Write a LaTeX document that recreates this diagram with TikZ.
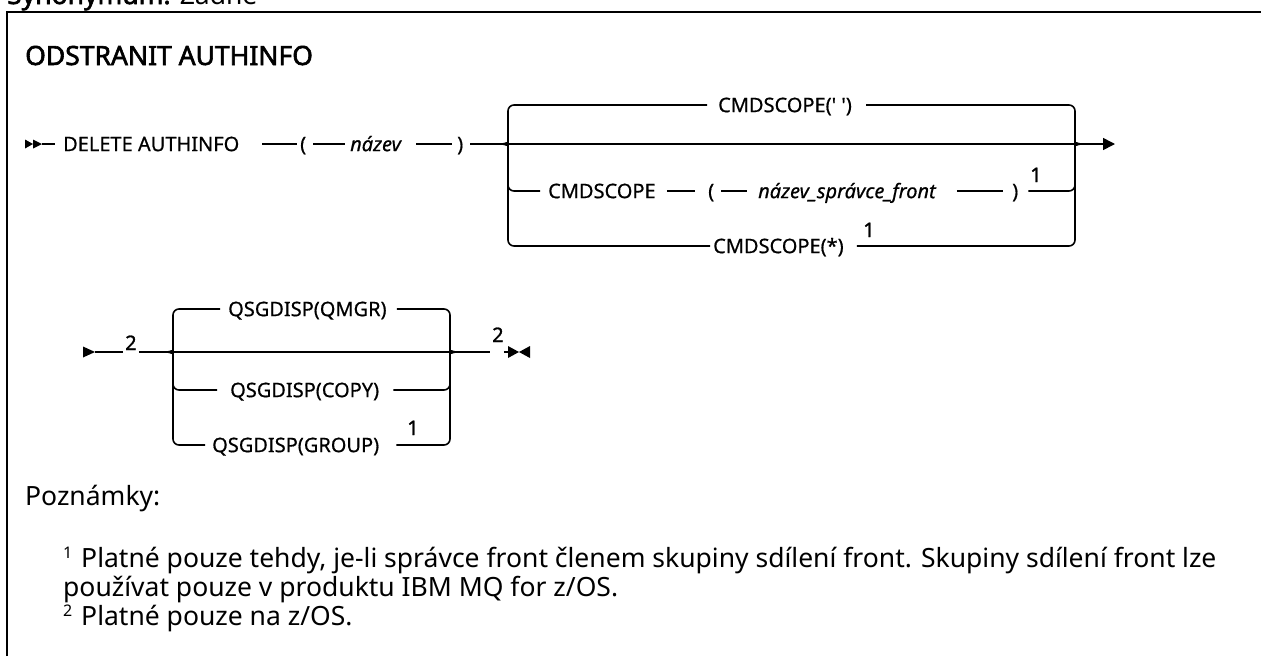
\documentclass[tikz,border=0pt]{standalone}
\usepackage{fontspec}
\setmainfont{Noto Sans}
\newfontfamily\heavyfont{Noto Sans}[FakeBold=2.2]
\newfontfamily\midfont{Noto Sans}[FakeBold=1.2]
\newfontfamily\railfamily{Noto Sans}[FakeBold=0.6]
\usetikzlibrary{arrows.meta}
\newcommand{\railfont}{\railfamily\fontsize{20}{24}\selectfont}
\newcommand{\fnsup}[1]{\raisebox{9pt}{\fontsize{16}{16}\selectfont #1}\hspace{2pt}}
\begin{document}
\begin{tikzpicture}[x=1pt,y=-1pt,
  rail/.style={line width=1.6pt},
  corner/.style={rail,rounded corners=6pt},
  kw/.style={inner sep=0pt,anchor=west,text height=14.3pt,text depth=0pt,font=\railfont},
  var/.style={kw,font=\railfont\itshape},
  fnum/.style={inner sep=0pt,anchor=base west,font=\midfont\fontsize{20}{22}\selectfont},
  note/.style={inner sep=0pt,anchor=base west,font=\fontsize{26.5}{30}\selectfont},
  head/.style={inner sep=0pt,anchor=base west,font=\heavyfont\fontsize{26.5}{30}\selectfont},
  tip/.style={fill=black}]
\useasboundingbox (0,0) rectangle (1261,656);
\begin{scope}
\clip (0,0) rectangle (1261,656);
\node[head] (syn) at (7,4) {Synonymum: {\normalfont\fontsize{26.5}{30}\selectfont Žádné}};
\end{scope}
% frame
\draw[line width=2pt] (7,656) -- (7,12) -- (1261,12);
\node[head] (title) at (25,65) {ODSTRANIT AUTHINFO};

% ---------- row 1 ----------
\coordinate (S1) at (42,144);
\fill[tip] (25,139.5) -- (33,144) -- (25,148.5) -- cycle;
\fill[tip] (33,139.5) -- (42,144) -- (33,148.5) -- cycle;
\node[kw] (cmd) at (63,144) {DELETE AUTHINFO};
\node[kw] (lp1) at (300,144) {(};
\node[var] (nm) at (350,144) {název};
\node[kw] (rp1) at (457,144) {)};
\coordinate (E1) at (1115,144);
\draw[rail,shorten >=8pt] (S1) -- (cmd.west);
\draw[rail,shorten <=23pt,shorten >=3pt] (cmd.east) -- (lp1.west);
\draw[rail,shorten <=7pt,shorten >=5pt] (lp1.east) -- (nm.west);
\draw[rail,shorten <=15pt,shorten >=5pt] (nm.east) -- (rp1.west);
\draw[rail,shorten <=7pt,-{Triangle[length=12pt,width=12pt]}] (rp1.east) -- (E1);

% branches
\node[kw] (b1) at (718,105) {CMDSCOPE(' ')};
\node[kw] (b2a) at (548,191) {CMDSCOPE};
\node[kw] (b2b) at (708,191) {(};
\node[var] (b2c) at (758,191) {název\_správce\_front};
\node[kw] (b2d) at (1012,191) {)};
\node[fnum] (f21) at (1030,182) {1};
\node[kw] (b3) at (713,246) {CMDSCOPE(*)};
\node[fnum] (f31) at (863,237) {1};

\coordinate (LT) at (508,105);
\coordinate (LB) at (508,246);
\coordinate (LJ) at (502,144);
\coordinate (RT) at (1075,105);
\coordinate (RB) at (1075,246);
\coordinate (RJ) at (1081,144);

\draw[corner] ([xshift=-11pt]b1.west) -- (LT) -- (508,138) to[out=-90,in=0] (LJ);
\draw[corner] (LJ) to[out=0,in=90] (508,150) -- (LB) -- ([xshift=-3pt]b3.west);
\draw[corner] (508,175) -- (508,191) -- ([xshift=-8pt]b2a.west);
\draw[corner] ([xshift=14pt]b1.east) -- (RT) -- (1075,138) to[out=-90,in=180] (RJ);
\draw[corner] (RJ) to[out=180,in=90] (1075,150) -- (RB) -- ([xshift=13pt]b3.east);
\draw[corner] (1075,175) -- (1075,191) -- ([xshift=10pt]b2d.east);
\draw[rail,shorten <=11pt,shorten >=13pt] (b2a.east) -- (b2b.west);
\draw[rail,shorten <=7pt,shorten >=11pt] (b2b.east) -- (b2c.west);
\draw[rail,shorten <=21pt,shorten >=9pt] (b2c.east) -- (b2d.west);

% ---------- row 2 ----------
\fill[tip] (83,346.5) -- (95,352) -- (83,357.5) -- cycle;
\coordinate (S2) at (95,352);
\node[fnum] (f2a) at (125,350) {2};
\node[fnum] (f2b) at (492,342) {2};
\coordinate (E2) at (508,352);
\fill[tip] (508,346) -- (519,352) -- (508,358) -- cycle;
\fill[tip] (530,346) -- (519,352) -- (530,358) -- cycle;
\draw[rail,shorten >=2pt] (S2) -- (f2a.south west |- S2);
\draw[rail,shorten <=2pt,shorten >=2pt] (f2a.south east |- S2) -- (f2b.south west |- S2);
\draw[rail] (f2b.south east |- S2) -- (E2);

\node[kw] (q1) at (228,309) {QSGDISP(QMGR)};
\node[kw] (q2) at (230,390) {QSGDISP(COPY)};
\node[kw] (q3) at (212,445) {QSGDISP(GROUP)};
\node[fnum] (f3q) at (407,435) {1};

\coordinate (PT) at (173,309);
\coordinate (PB) at (173,445);
\coordinate (PJ) at (167,352);
\coordinate (QT) at (450,309);
\coordinate (QB) at (450,445);
\coordinate (QJ) at (456,352);

\draw[corner] ([xshift=-8pt]q1.west) -- (PT) -- (173,346) to[out=-90,in=0] (PJ);
\draw[corner] (PJ) to[out=0,in=90] (173,358) -- (PB) -- ([xshift=-7pt]q3.west);
\draw[corner] (173,375) -- (173,390) -- ([xshift=-13pt]q2.west);
\draw[corner] ([xshift=10pt]q1.east) -- (QT) -- (450,346) to[out=-90,in=180] (QJ);
\draw[corner] (QJ) to[out=180,in=90] (450,358) -- (QB) -- ([xshift=17pt]q3.east);
\draw[corner] (450,375) -- (450,390) -- ([xshift=14pt]q2.east);

% ---------- notes ----------
\node[note] (pz) at (25,505) {Poznámky:};
\node[note] (n1) at (63,567) {\fnsup{1} Platné pouze tehdy, je-li správce front členem skupiny sdílení front. Skupiny sdílení front lze};
\node[note] (n2) at (63,596) {používat pouze v produktu IBM MQ for z/OS.};
\node[note] (n3) at (63,625) {\fnsup{2} Platné pouze na z/OS.};
\end{tikzpicture}
\end{document}
